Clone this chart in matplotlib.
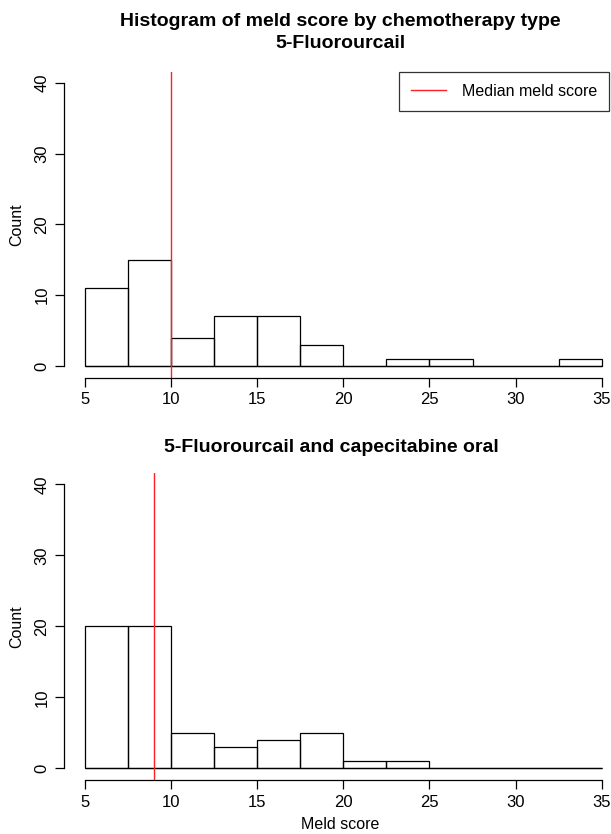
import numpy as np
import matplotlib
matplotlib.use("Agg")
import matplotlib.pyplot as plt
from matplotlib.lines import Line2D

plt.rcParams["font.family"] = ["Liberation Sans", "DejaVu Sans"]

# histogram breaks (meld score) and counts per bin
breaks = [5, 7.5, 10, 12.5, 15, 17.5, 20, 22.5, 25, 27.5, 30, 32.5, 35]
counts_5fu = [11, 15, 4, 7, 7, 3, 0, 1, 1, 0, 0, 1]
counts_5fu_cap = [20, 20, 5, 3, 4, 5, 1, 1, 0, 0, 0, 0]
median_5fu = 10
median_5fu_cap = 9

xticks = [5, 10, 15, 20, 25, 30, 35]
yticks = [0, 10, 20, 30, 40]

W, H = 611, 834
fig = plt.figure(figsize=(W / 100, H / 100), dpi=100)


def px_axes(left, top, right, bottom):
    return fig.add_axes([left / W, 1 - bottom / H, (right - left) / W, (bottom - top) / H])


def draw_panel(ax, counts, median):
    edges = np.array(breaks)
    ax.bar(edges[:-1], counts, width=np.diff(edges), align="edge",
           fill=False, edgecolor="black", linewidth=0.9)
    # empty bins still get their flat bottom edge, as in R's hist()
    ax.hlines(0, edges[0], edges[-1], color="black", linewidth=0.9)
    ax.axvline(median, color="#ff2020", linewidth=1.0)
    ax.set_xlim(3.78, 35.83)
    ax.set_ylim(-1.65, 41.57)
    for s in ("top", "right"):
        ax.spines[s].set_visible(False)
    ax.spines["left"].set_bounds(0, 40)
    ax.spines["bottom"].set_bounds(5, 35)
    for s in ("left", "bottom"):
        ax.spines[s].set_linewidth(0.9)
    ax.set_xticks(xticks)
    ax.set_yticks(yticks)
    ax.set_yticklabels([str(t) for t in yticks], rotation=90, va="center")
    ax.tick_params(axis="both", length=6.5, width=0.9, labelsize=12, pad=4)
    ax.set_ylabel("Count", fontsize=11.5, labelpad=7)


ax1 = px_axes(64, 71.7, 616, 377.7)
draw_panel(ax1, counts_5fu, median_5fu)
ax2 = px_axes(64, 473.3, 616, 780)
draw_panel(ax2, counts_5fu_cap, median_5fu_cap)
ax2.set_xlabel("Meld score", fontsize=11.5, labelpad=5)

fig.text(340 / W, 1 - 21 / H, "Histogram of meld score by chemotherapy type",
         ha="center", va="center", fontsize=14, fontweight="bold")
fig.text(340 / W, 1 - 44 / H, "5-Fluorourcail",
         ha="center", va="center", fontsize=14, fontweight="bold")
fig.text(331 / W, 1 - 447 / H, "5-Fluorourcail and capecitabine oral",
         ha="center", va="center", fontsize=14, fontweight="bold")

# legend in the top panel, top-right corner
handle = Line2D([], [], color="#ff2020", linewidth=1.0)
leg = ax1.legend([handle], ["Median meld score"], loc="upper right",
                 bbox_to_anchor=(609 / W, 1 - 71.7 / H), bbox_transform=fig.transFigure,
                 fontsize=11.5, frameon=True, fancybox=False, borderaxespad=0,
                 handlelength=2.2, borderpad=0.75, handletextpad=1.0)
leg.get_frame().set_edgecolor("black")
leg.get_frame().set_linewidth(0.9)

fig.savefig("out.png", dpi=100)
